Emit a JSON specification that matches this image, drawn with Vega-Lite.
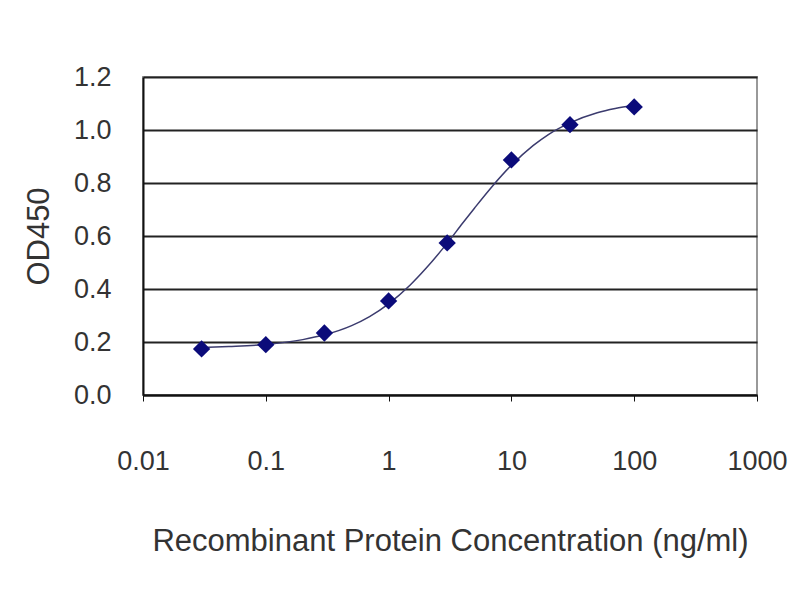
{
  "$schema": "https://vega.github.io/schema/vega-lite/v6.json",
  "width": 614,
  "height": 318,
  "autosize": "none",
  "padding": {"left": 143, "top": 77, "right": 43, "bottom": 205},
  "background": "white",
  "datasets": {
    "points": [
      {"conc": 0.03, "od": 0.174},
      {"conc": 0.1, "od": 0.19},
      {"conc": 0.3, "od": 0.234},
      {"conc": 1, "od": 0.355},
      {"conc": 3, "od": 0.574},
      {"conc": 10, "od": 0.887},
      {"conc": 30, "od": 1.02},
      {"conc": 100, "od": 1.087}
    ],
    "curve": [
      {"conc": 0.03, "od": 0.179},
      {"conc": 0.05, "od": 0.183},
      {"conc": 0.1, "od": 0.191},
      {"conc": 0.2, "od": 0.209},
      {"conc": 0.3, "od": 0.227},
      {"conc": 0.5, "od": 0.262},
      {"conc": 0.7, "od": 0.296},
      {"conc": 1, "od": 0.344},
      {"conc": 1.5, "od": 0.415},
      {"conc": 2, "od": 0.476},
      {"conc": 3, "od": 0.573},
      {"conc": 4, "od": 0.648},
      {"conc": 5, "od": 0.705},
      {"conc": 7, "od": 0.788},
      {"conc": 10, "od": 0.867},
      {"conc": 15, "od": 0.941},
      {"conc": 20, "od": 0.983},
      {"conc": 30, "od": 1.027},
      {"conc": 50, "od": 1.065},
      {"conc": 70, "od": 1.081},
      {"conc": 100, "od": 1.093}
    ]
  },
  "encoding": {
    "x": {
      "field": "conc",
      "type": "quantitative",
      "scale": {"type": "log", "domain": [0.01, 1000]},
      "axis": {
        "title": "Recombinant Protein Concentration (ng/ml)",
        "values": [0.01, 0.1, 1, 10, 100, 1000],
        "labelExpr": "datum.value < 1 ? format(datum.value, '') : format(datum.value, 'd')",
        "grid": false,
        "tickSize": 6,
        "labelPadding": 47,
        "titlePadding": 52,
        "labelFlush": false
      }
    },
    "y": {
      "field": "od",
      "type": "quantitative",
      "scale": {"domain": [0, 1.2]},
      "axis": {
        "title": "OD450",
        "values": [0, 0.2, 0.4, 0.6, 0.8, 1.0, 1.2],
        "format": ".1f",
        "grid": true,
        "ticks": false,
        "labelPadding": 32,
        "titlePadding": 18
      }
    }
  },
  "layer": [
    {
      "data": {"name": "curve"},
      "mark": {"type": "line", "color": "#3b3b6e", "strokeWidth": 1.5, "interpolate": "monotone"}
    },
    {
      "data": {"name": "points"},
      "mark": {"type": "point", "shape": "diamond", "filled": true, "color": "#0b0b7a", "opacity": 1, "size": 300}
    }
  ],
  "config": {
    "view": {"stroke": "#999999", "strokeWidth": 2},
    "axis": {
      "domainColor": "#111111",
      "domainWidth": 2,
      "tickColor": "#111111",
      "gridColor": "#222222",
      "gridWidth": 2,
      "gridOpacity": 1,
      "labelFont": "Liberation Sans",
      "labelFontSize": 27,
      "labelColor": "#333333",
      "titleFont": "Liberation Sans",
      "titleFontSize": 31,
      "titleFontWeight": "normal",
      "titleColor": "#333333"
    }
  }
}
